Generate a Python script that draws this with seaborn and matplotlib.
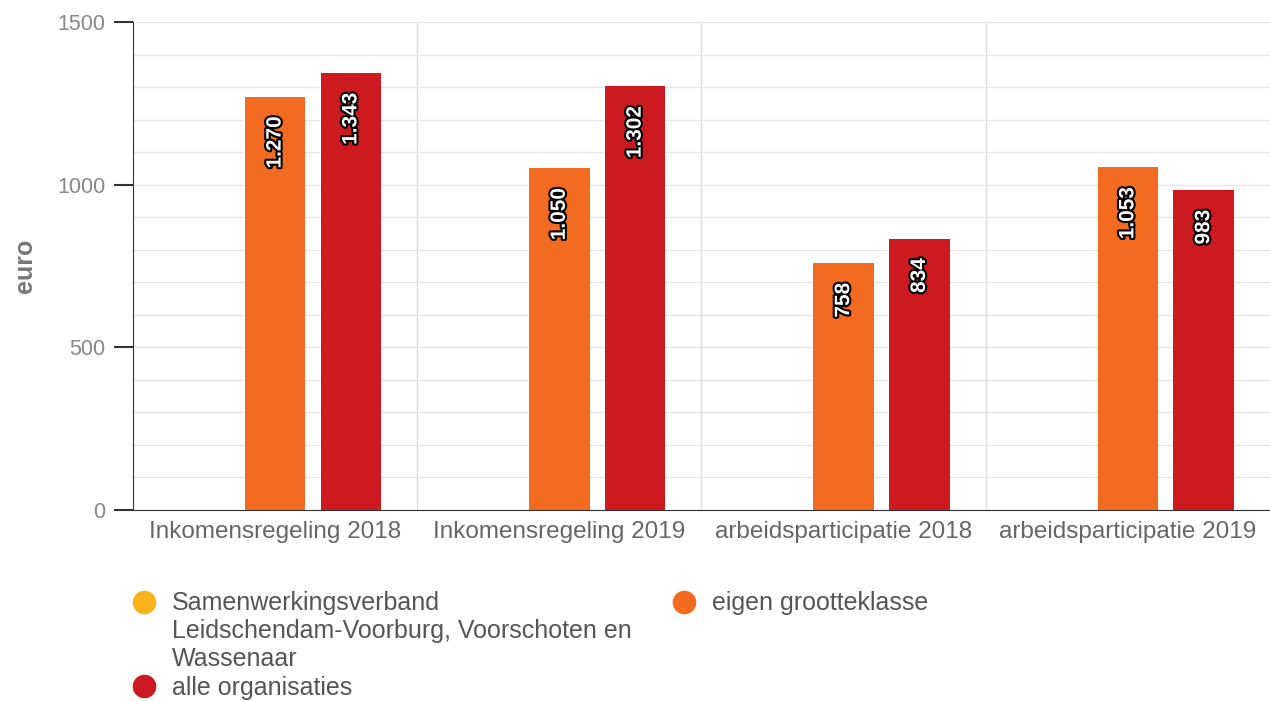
import matplotlib
matplotlib.use("Agg")
import matplotlib.pyplot as plt
import matplotlib.patheffects as pe
from matplotlib.ticker import FixedLocator, MultipleLocator
from matplotlib.lines import Line2D
import pandas as pd
import seaborn as sns

# data
categories = ["Inkomensregeling 2018", "Inkomensregeling 2019",
              "arbeidsparticipatie 2018", "arbeidsparticipatie 2019"]
series = ["Samenwerkingsverband\nLeidschendam-Voorburg, Voorschoten en\nWassenaar",
          "eigen grootteklasse", "alle organisaties"]
eigen = [1270, 1050, 758, 1053]
alle = [1343, 1302, 834, 983]
colors = ["#F9B31B", "#F26B21", "#CC1A20"]

# long table; the first series has no values but keeps its slot
rows = []
for c, v in zip(categories, eigen):
    rows.append({"cat": c, "series": series[1], "value": v})
for c, v in zip(categories, alle):
    rows.append({"cat": c, "series": series[2], "value": v})
df = pd.DataFrame(rows)

sns.set_style("white")
plt.rcParams["font.family"] = ["Liberation Sans", "DejaVu Sans"]

fig = plt.figure(figsize=(12.7, 7.02), dpi=100)
ax = fig.add_axes([0.1047, 0.2735, 0.8953, 0.6952])

sns.barplot(data=df, x="cat", y="value", hue="series", hue_order=series,
            order=categories, palette=colors, gap=0.2, legend=False,
            saturation=1, ax=ax, linewidth=0)

# value labels inside the bars, rotated
for cont in ax.containers:
    for p in cont.patches:
        h = p.get_height()
        if h != h or h == 0:
            continue
        txt = f"{int(round(h)):,}".replace(",", ".")
        ax.annotate(txt, (p.get_x() + p.get_width() / 2, h),
                    xytext=(0, -14), textcoords="offset points",
                    ha="center", va="top", rotation=90, color="white",
                    fontsize=15, fontweight="bold",
                    path_effects=[pe.withStroke(linewidth=3, foreground="black")])

ax.set_ylim(0, 1500)
ax.set_xlim(-0.5, 3.5)
ax.set_yticks([0, 500, 1000, 1500])
ax.yaxis.set_minor_locator(MultipleLocator(100))
ax.xaxis.set_minor_locator(FixedLocator([0.5, 1.5, 2.5]))
ax.grid(which="both", axis="y", color="#e8e8e8", linewidth=1)
ax.grid(which="minor", axis="x", color="#dddddd", linewidth=1)
ax.set_axisbelow(True)

for s in ["top", "right"]:
    ax.spines[s].set_visible(False)
ax.spines["left"].set_color("#333333")
ax.spines["bottom"].set_color("#333333")
ax.tick_params(axis="y", which="major", left=True, length=14, width=1.5,
               color="#333333", labelsize=15.5, labelcolor="#888888", pad=6)
ax.tick_params(axis="y", which="minor", left=False, length=0)
ax.tick_params(axis="x", which="both", length=0, labelsize=17.5,
               labelcolor="#666666", pad=8)

ax.set_xlabel("")
ax.set_ylabel("euro", fontsize=18, fontweight="bold", color="#777777", labelpad=14)

def dot(c):
    return Line2D([], [], marker="o", linestyle="", markersize=16,
                  markerfacecolor=c, markeredgecolor=c)

leg_kw = dict(loc="upper left", frameon=False, fontsize=18,
              labelcolor="#555555", handletextpad=0.6, labelspacing=0.2,
              handlelength=1.0, borderaxespad=0)
leg1 = fig.legend([dot(colors[0]), dot(colors[2])], [series[0], series[2]],
                  bbox_to_anchor=(0.096, 0.172), **leg_kw)
leg2 = fig.legend([dot(colors[1])], [series[1]],
                  bbox_to_anchor=(0.521, 0.172), **leg_kw)

# put the dot of the multi-line entry next to its first line
h0 = leg1.legend_handles[0]
h0.set_ydata([y + 18 * 1.2 for y in h0.get_ydata()])

fig.savefig("out.png", dpi=100)
